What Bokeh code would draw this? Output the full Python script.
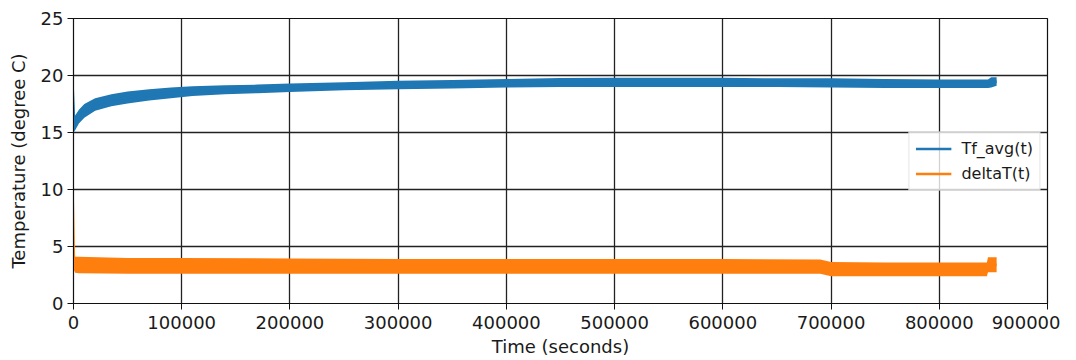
from bokeh.plotting import figure
from bokeh.embed import file_html
from bokeh.resources import INLINE
from bokeh.models import Range1d, BasicTickFormatter, FixedTicker, Legend, LegendItem

# --- data (envelopes of the noisy traces) ---
tf_time = [0, 1500, 5000, 10000, 20000, 35000, 50000, 70000, 90000, 110000, 140000,
           170000, 200000, 250000, 300000, 350000, 400000, 450000, 500000, 550000,
           600000, 650000, 700000, 750000, 800000, 845000, 848000, 853000]
tf_lower = [15.0, 15.2, 15.8, 16.3, 16.9, 17.3, 17.55, 17.8, 18.0, 18.2, 18.35,
            18.45, 18.55, 18.7, 18.8, 18.85, 18.95, 19.0, 19.0, 19.0,
            19.0, 19.0, 18.95, 18.9, 18.9, 18.9, 18.95, 19.1]
tf_upper = [19.8, 16.5, 17.0, 17.5, 18.0, 18.35, 18.6, 18.8, 18.95, 19.05, 19.15,
            19.2, 19.3, 19.4, 19.55, 19.6, 19.7, 19.78, 19.8, 19.8,
            19.8, 19.75, 19.75, 19.7, 19.65, 19.65, 19.85, 19.85]

dt_time = [0, 1500, 5000, 50000, 100000, 200000, 300000, 400000, 500000, 600000,
           690000, 700000, 750000, 800000, 844000, 845000, 853000]
dt_lower = [3.0, 2.7, 2.65, 2.6, 2.6, 2.6, 2.6, 2.6, 2.6, 2.6,
            2.6, 2.4, 2.4, 2.4, 2.4, 2.75, 2.75]
dt_upper = [11.5, 4.1, 4.1, 4.0, 4.0, 3.95, 3.9, 3.9, 3.9, 3.9,
            3.85, 3.65, 3.6, 3.6, 3.6, 4.05, 4.05]

x_ticks = [0, 100000, 200000, 300000, 400000, 500000, 600000, 700000, 800000, 900000]
y_ticks = [0, 5, 10, 15, 20, 25]
series_names = ["Tf_avg(t)", "deltaT(t)"]
colors = ["#1f77b4", "#ff7f0e"]

p = figure(width=1060, height=360, output_backend="svg", toolbar_location=None,
           x_range=Range1d(0, 900000), y_range=Range1d(0, 25),
           min_border_left=73, min_border_right=13, min_border_top=18, min_border_bottom=57)

txt = "#1a1a1a"
font = "DejaVu Sans"

p.varea(x=tf_time, y1=tf_lower, y2=tf_upper, color=colors[0])
p.varea(x=dt_time, y1=dt_lower, y2=dt_upper, color=colors[1])

tf_mid = [(a + b) / 2 for a, b in zip(tf_lower[1:], tf_upper[1:])]
dt_mid = [(a + b) / 2 for a, b in zip(dt_lower[1:], dt_upper[1:])]
r1 = p.line(tf_time[1:], tf_mid, line_color=colors[0], line_width=2.5)
r2 = p.line(dt_time[1:], dt_mid, line_color=colors[1], line_width=2.5)

legend = Legend(items=[LegendItem(label=series_names[0], renderers=[r1]),
                       LegendItem(label=series_names[1], renderers=[r2])],
                location="right")
legend.margin = 7
legend.padding = 6
legend.spacing = 5
legend.glyph_width = 36
legend.glyph_height = 20
legend.label_text_font = font
legend.label_text_font_size = "16px"
legend.label_text_color = txt
legend.border_line_color = "#cccccc"
legend.border_line_width = 1
legend.background_fill_alpha = 0.8
legend.label_standoff = 10
p.add_layout(legend, "center")

for ax in (p.xaxis[0], p.yaxis[0]):
    ax.major_label_text_font = font
    ax.major_label_text_font_size = "18px"
    ax.major_label_text_color = txt
    ax.axis_label_text_font = font
    ax.axis_label_text_font_size = "18px"
    ax.axis_label_text_font_style = "normal"
    ax.axis_label_text_color = txt
    ax.minor_tick_line_color = None
    ax.major_tick_out = 6
    ax.major_tick_in = 0
    ax.major_tick_line_color = "#111111"
    ax.axis_line_color = "#111111"

p.xaxis[0].ticker = FixedTicker(ticks=x_ticks)
p.yaxis[0].ticker = FixedTicker(ticks=y_ticks)
p.xaxis[0].formatter = BasicTickFormatter(use_scientific=False)
p.xaxis[0].axis_label = "Time (seconds)"
p.yaxis[0].axis_label = "Temperature (degree C)"
p.xaxis[0].axis_label_standoff = 4
p.yaxis[0].axis_label_standoff = 9
p.xaxis[0].major_label_standoff = 6
p.yaxis[0].major_label_standoff = 4

p.grid.grid_line_color = "#222222"
p.grid.grid_line_width = 1.3
p.outline_line_color = "#111111"
p.outline_line_width = 1.2

open("out.html", "w").write(file_html(p, INLINE))
